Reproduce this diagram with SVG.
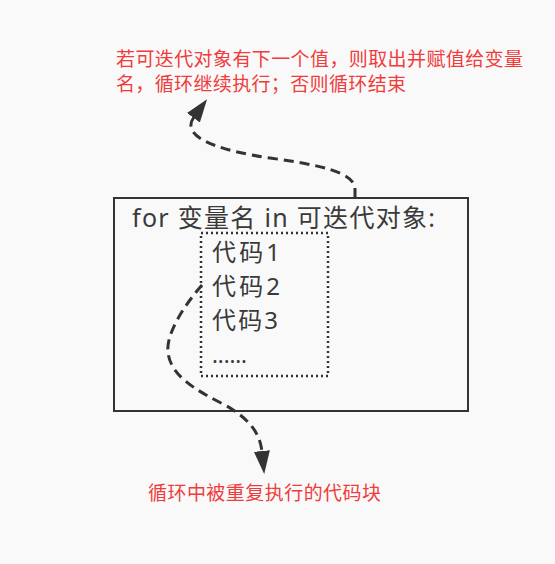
<svg xmlns="http://www.w3.org/2000/svg" width="555" height="564" viewBox="0 0 555 564">
<style>
.note{font-family:"Noto Sans","Noto Sans CJK SC",sans-serif;fill:#f03c3c;font-size:19px}
.code{font-family:"Noto Sans","Noto Sans CJK SC",sans-serif;fill:#3a3a3a}
.dash{fill:none;stroke:#333;stroke-width:3;stroke-dasharray:10 6}
</style>
<defs>
<marker id="ah" markerUnits="userSpaceOnUse" markerWidth="26" markerHeight="18" refX="1" refY="8" orient="auto">
<path d="M0,0 L23,8 L0,16 Z" fill="#333"/>
</marker>
</defs>
<rect x="0" y="0" width="555" height="564" fill="#f9f9f9"/>
<g id="loop-box">
<rect x="114" y="198" width="354" height="213" fill="none" stroke="#333" stroke-width="2"/>
<text class="code" x="132" y="227" font-size="25" textLength="303" lengthAdjust="spacing">for 变量名 in 可迭代对象:</text>
</g>
<g id="code-block">
<rect x="201" y="233" width="127" height="143" fill="none" stroke="#333" stroke-width="2.5" stroke-dasharray="2 3"/>
<text class="code" x="212" y="261" font-size="24" textLength="68" lengthAdjust="spacing">代码1</text>
<text class="code" x="212" y="295" font-size="24" textLength="68" lengthAdjust="spacing">代码2</text>
<text class="code" x="212" y="329" font-size="24" textLength="66" lengthAdjust="spacing">代码3</text>
<text class="code" x="212" y="363" font-size="22" textLength="35" lengthAdjust="spacing">......</text>
</g>
<g id="note-top">
<text class="note" x="116" y="66" textLength="407" lengthAdjust="spacing">若可迭代对象有下一个值，则取出并赋值给变量</text>
<text class="note" x="116" y="91" textLength="290" lengthAdjust="spacing">名，循环继续执行；否则循环结束</text>
</g>
<g id="note-bottom">
<text class="note" x="148" y="500" textLength="233" lengthAdjust="spacing">循环中被重复执行的代码块</text>
</g>
<g id="connectors">
<path class="dash" d="M355,198 L355,188 C353,172 320,165 270,158 C215,150 180,136 194,117" marker-end="url(#ah)"/>
<path class="dash" d="M202,285 C182,308 166,335 168,352 C170,375 195,390 225,405 C248,418 260,432 262,452" marker-end="url(#ah)"/>
</g>
</svg>
